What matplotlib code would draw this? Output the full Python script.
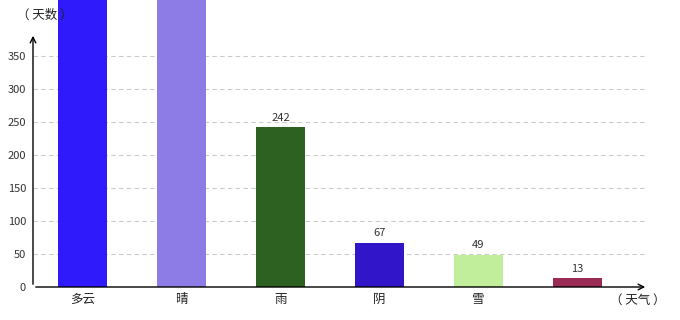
import matplotlib.pyplot as plt

plt.rcParams['font.family'] = ['Noto Sans CJK SC', 'DejaVu Sans']

categories = ['多云', '晴', '雨', '阴', '雪', '']
values = [900, 800, 242, 67, 49, 13]
colors = ['#2e1afa', '#8e7ce6', '#2d6121', '#3115c9', '#c0ee9a', '#9a2b55']
y_ticks = [0, 50, 100, 150, 200, 250, 300, 350]

fig = plt.figure(figsize=(6.8, 3.2), dpi=100)
ax = fig.add_axes([33 / 680, 33 / 320, 615 / 680, 254 / 320])

x = list(range(len(categories)))
ax.bar(x, values, width=0.495, color=colors, zorder=3, clip_on=False)

for i, v in enumerate(values):
    if v < 385:
        ax.text(i, v + 7, str(v), ha='center', va='bottom', fontsize=8,
                color='#333333', zorder=4)

ax.set_xlim(-0.5, -0.5 + 615 / 99)
ax.set_ylim(0, 385)
ax.set_xticks(x)
ax.set_xticklabels(categories, fontsize=9, color='#222222')
ax.set_yticks(y_ticks)
ax.set_yticklabels([str(t) for t in y_ticks], fontsize=8, color='#333333')
ax.tick_params(axis='x', length=0, pad=4)
ax.tick_params(axis='y', length=0, pad=5)

ax.grid(axis='y', linestyle=(0, (4, 3)), color='#cccccc', linewidth=0.8, zorder=0)
for side in ['top', 'right', 'bottom', 'left']:
    ax.spines[side].set_visible(False)

# axes with arrows
ax.annotate('', xy=(1, 0), xytext=(0, 0), xycoords='axes fraction',
            arrowprops=dict(arrowstyle='->', color='black', lw=1), zorder=5)
ax.annotate('', xy=(0, 1), xytext=(0, 0), xycoords='axes fraction',
            arrowprops=dict(arrowstyle='->', color='black', lw=1), zorder=5)

fig.text(17 / 680, 1 - 15 / 320, '（ 天数 ）', fontsize=9, va='center', ha='left',
         color='#222222', zorder=1)
fig.text(610 / 680, 1 - 300 / 320, '（ 天气 ）', fontsize=9, va='center', ha='left',
         color='#222222')

fig.savefig('out.png', dpi=100)
